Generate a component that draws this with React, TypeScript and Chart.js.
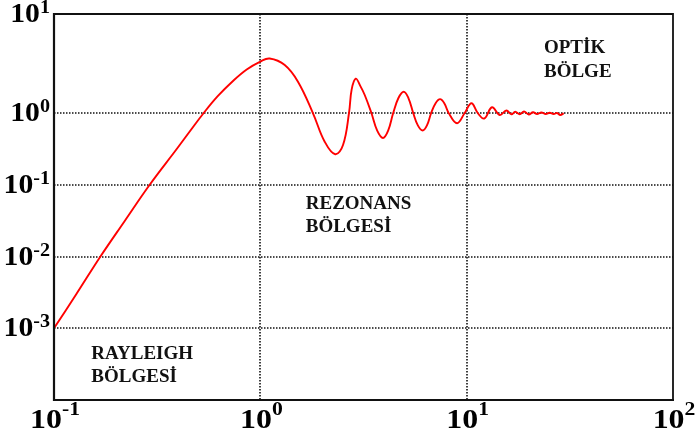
import React, { useEffect, useRef } from 'react';
import { Chart, registerables, LogarithmicScale } from 'chart.js';

// ---- data ----
const xValues = [
  0.1, 0.1284, 0.1679, 0.2202, 0.2909, 0.3933, 0.4547, 0.5315, 0.6216, 0.737, 0.859, 1.0, 1.11, 1.313, 1.522, 1.8,
  2.051, 2.306, 2.516, 2.69, 2.77, 2.899, 3.05, 3.206, 3.454,
  3.685, 3.931, 4.163, 4.405, 4.67, 4.954, 5.22, 5.508, 5.8, 6.12, 6.42, 6.73, 7.07, 7.43, 7.79, 8.18,
  8.98, 9.78, 10.55, 11.31, 12.16, 13.27, 14.46, 15.58, 16.48, 17.19, 18.08, 18.96, 19.98, 20.97, 21.93,
  23.02, 24.16, 25.26, 26.41, 27.41, 28.41, 29.54,
];
const yValues = [
  0.001, 0.003, 0.01, 0.0313, 0.1, 0.315, 0.552, 1.0, 1.478, 2.105, 2.75, 3.31, 3.55, 3.05, 2.07, 0.99,
  0.398, 0.266, 0.358, 1.0, 1.72, 2.22, 1.88, 1.52, 1.0,
  0.567, 0.448, 0.567, 1.0, 1.417, 1.64, 1.417, 1.0, 0.672, 0.57, 0.672, 1.0, 1.256, 1.38, 1.256, 1.0,
  0.718, 1.0, 1.253, 1.0, 0.838, 1.142, 0.938, 1.06, 0.959, 1.028, 0.959, 1.036, 0.953, 1.016, 0.968,
  1.012, 0.968, 1.005, 0.968, 1.0, 0.938, 0.99,
];

const xTickValues = [0.1, 1, 10, 100];
const xTickExponents = ['-1', '0', '1', '2'];
const yTickValues = [10, 1, 0.1, 0.01, 0.001];
const yTickExponents = ['1', '0', '-1', '-2', '-3'];
const xGridValues = [1, 10];
const yGridValues = [1, 0.1, 0.01, 0.001];

const regionLines = [['OPTİK', 'BÖLGE'], ['REZONANS', 'BÖLGESİ'], ['RAYLEIGH', 'BÖLGESİ']];
const regionX = [23.7, 1.66, 0.1517];
const regionY = [4.0, 0.0455, 0.000369];
const regionLineGap = [24, 22.4, 22.4];

const X_MIN = 0.1, X_MAX = 100;
const Y_MIN = 1e-4, Y_MAX = 10, Y_SPLIT = 1;
const SPLIT_FRACTION = 287 / 386; // share of height used by the decades below the split

const SERIF = '"Liberation Serif", "Times New Roman", Times, serif';

class SplitLogScale extends LogarithmicScale {
  static id = 'splitLog';
  static defaults = { ...(LogarithmicScale as any).defaults };
  getPixelForValue(value: number) {
    const self = this as any;
    if (value === undefined || value === null || value <= 0) return NaN;
    const lv = Math.log10(value);
    const lo = Math.log10(self.min);
    const hi = Math.log10(self.max);
    const mid = Math.log10(Y_SPLIT);
    const t = lv <= mid
      ? ((lv - lo) / (mid - lo)) * SPLIT_FRACTION
      : SPLIT_FRACTION + ((lv - mid) / (hi - mid)) * (1 - SPLIT_FRACTION);
    return self.bottom - t * (self.bottom - self.top);
  }
  getValueForPixel(pixel: number) {
    const self = this as any;
    const t = (self.bottom - pixel) / (self.bottom - self.top);
    const lo = Math.log10(self.min);
    const hi = Math.log10(self.max);
    const mid = Math.log10(Y_SPLIT);
    const lv = t <= SPLIT_FRACTION
      ? lo + (t / SPLIT_FRACTION) * (mid - lo)
      : mid + ((t - SPLIT_FRACTION) / (1 - SPLIT_FRACTION)) * (hi - mid);
    return Math.pow(10, lv);
  }
}

Chart.register(...registerables, SplitLogScale);

function drawPower(ctx: CanvasRenderingContext2D, exp: string, anchorX: number, baseline: number, align: 'right' | 'center', stretch: number, expRaise: number) {
  ctx.save();
  ctx.fillStyle = '#000';
  ctx.textAlign = 'left';
  ctx.textBaseline = 'alphabetic';
  const baseFont = `bold 28px ${SERIF}`;
  const expFont = `bold 19px ${SERIF}`;
  ctx.font = baseFont;
  const bw = ctx.measureText('10').width;
  ctx.font = expFont;
  const ew = ctx.measureText(exp).width;
  const total = (bw + ew) * stretch;
  const startX = align === 'right' ? anchorX - total : anchorX - total / 2;
  ctx.translate(startX, 0);
  ctx.scale(stretch, 1);
  ctx.font = baseFont;
  ctx.fillText('10', 0, baseline);
  ctx.font = expFont;
  ctx.fillText(exp, bw, baseline - expRaise);
  ctx.restore();
}

const decorPlugin = {
  id: 'decor',
  beforeDatasetsDraw(chart: any) {
    const { ctx, chartArea: a, scales } = chart;
    const xs = scales.x, ys = scales.y;
    ctx.save();
    ctx.strokeStyle = '#111';
    ctx.lineWidth = 1.6;
    ctx.setLineDash([1.5, 1.5]);
    xGridValues.forEach((v) => {
      const px = Math.round(xs.getPixelForValue(v));
      ctx.beginPath();
      ctx.moveTo(px, a.top);
      ctx.lineTo(px, a.bottom);
      ctx.stroke();
    });
    yGridValues.forEach((v) => {
      const py = Math.round(ys.getPixelForValue(v));
      ctx.beginPath();
      ctx.moveTo(a.left, py);
      ctx.lineTo(a.right, py);
      ctx.stroke();
    });
    ctx.restore();
  },
  afterDatasetsDraw(chart: any) {
    const { ctx, chartArea: a, scales } = chart;
    const xs = scales.x, ys = scales.y;
    ctx.save();
    ctx.setLineDash([]);
    ctx.strokeStyle = '#111';
    ctx.lineWidth = 1.8;
    ctx.beginPath();
    ctx.moveTo(a.left, a.top);
    ctx.lineTo(a.right, a.top);
    ctx.lineTo(a.right, a.bottom);
    ctx.stroke();
    ctx.lineWidth = 2.2;
    ctx.beginPath();
    ctx.moveTo(a.left, a.top - 1);
    ctx.lineTo(a.left, a.bottom);
    ctx.lineTo(a.right + 1, a.bottom);
    ctx.stroke();

    yTickValues.forEach((v, i) => {
      const py = ys.getPixelForValue(v);
      drawPower(ctx, yTickExponents[i], a.left - 4, py + 8, 'right', 1.06, 9);
    });
    xTickValues.forEach((v, i) => {
      const px = xs.getPixelForValue(v);
      drawPower(ctx, xTickExponents[i], px + 1, a.bottom + 28, 'center', 1.14, 13);
    });

    ctx.fillStyle = '#111';
    ctx.font = `bold 19px ${SERIF}`;
    ctx.textAlign = 'left';
    ctx.textBaseline = 'alphabetic';
    regionLines.forEach((lines, i) => {
      const px = xs.getPixelForValue(regionX[i]);
      const py = ys.getPixelForValue(regionY[i]);
      lines.forEach((t, j) => ctx.fillText(t, px, py + j * regionLineGap[i]));
    });
    ctx.restore();
  },
};

export default function App() {
  const ref = useRef<HTMLCanvasElement | null>(null);
  useEffect(() => {
    if (!ref.current) return;
    const points = xValues.map((x, i) => ({ x, y: yValues[i] }));
    const hidden = {
      display: true,
      grid: { display: false, drawTicks: false },
      border: { display: false },
      ticks: { display: false },
    };
    const chart = new Chart(ref.current, {
      type: 'line',
      data: {
        datasets: [
          {
            data: points,
            borderColor: '#ff0000',
            borderWidth: 1.9,
            pointRadius: 0,
            fill: false,
            tension: 0.4,
          },
        ],
      },
      options: {
        animation: false,
        responsive: false,
        maintainAspectRatio: false,
        devicePixelRatio: 1,
        layout: { padding: { left: 54, top: 14, right: 23, bottom: 36 } },
        plugins: { legend: { display: false }, tooltip: { enabled: false } },
        events: [],
        scales: {
          x: {
            ...hidden,
            type: 'logarithmic',
            min: X_MIN,
            max: X_MAX,
            afterFit: (s: any) => { s.height = 0; },
          },
          y: {
            ...hidden,
            type: 'splitLog',
            min: Y_MIN,
            max: Y_MAX,
            afterFit: (s: any) => { s.width = 0; },
          },
        },
      } as any,
      plugins: [decorPlugin],
    } as any);
    let alive = true;
    const fonts = (document as any).fonts;
    if (fonts && fonts.load) {
      Promise.all([
        fonts.load('bold 28px "Liberation Serif"'),
        fonts.load('bold 19px "Liberation Serif"'),
      ]).then(() => { if (alive) chart.draw(); }).catch(() => {});
    }
    return () => { alive = false; chart.destroy(); };
  }, []);
  return (
    <div style={{ position: 'fixed', left: 0, top: 0, width: 696, height: 436, background: '#fff' }}>
      <span style={{ position: 'absolute', left: -9999, fontFamily: '"Liberation Serif"', fontWeight: 'bold' }}>10 ÖİLG</span>
      <canvas ref={ref} width={696} height={436} style={{ display: 'block', width: 696, height: 436 }} />
    </div>
  );
}
